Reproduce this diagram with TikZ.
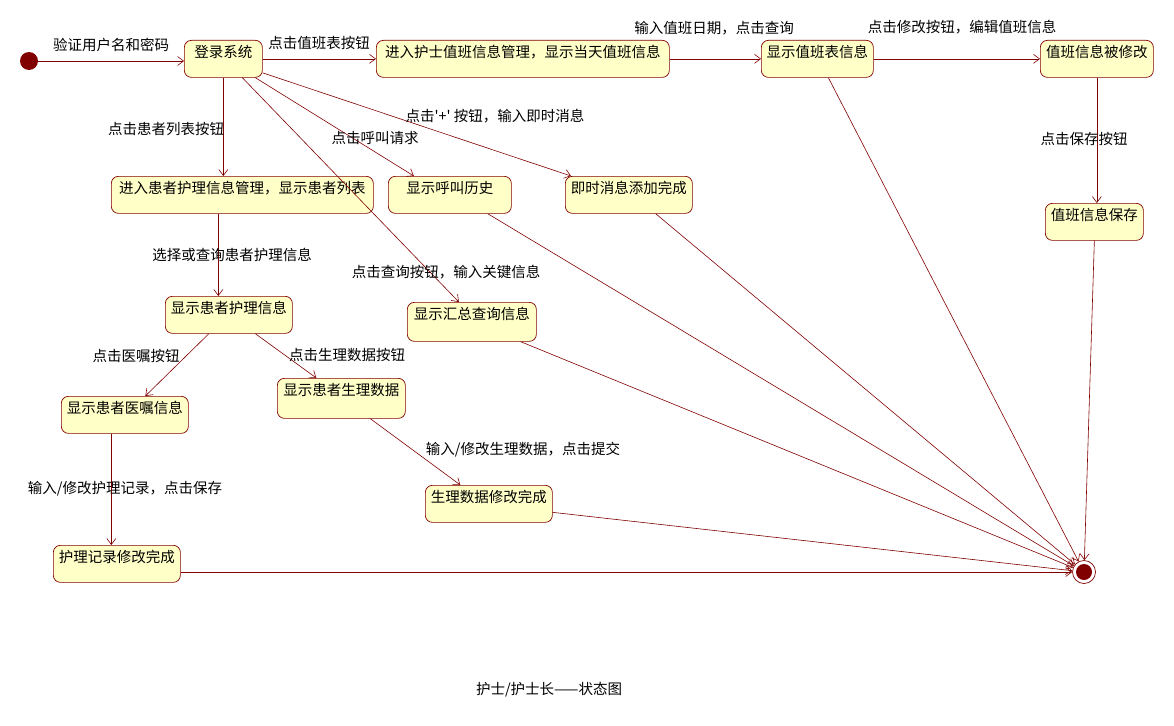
\documentclass[tikz,border=0pt]{standalone}
\usepackage{fontspec}
\setmainfont{Noto Sans CJK SC}
\usepackage{xcolor}
\usetikzlibrary{arrows, arrows.meta}
\definecolor{umlred}{RGB}{128,0,0}
\definecolor{umlfill}{RGB}{255,255,200}

\begin{document}
\begin{tikzpicture}[x=1pt, y=-1pt, font=\fontsize{14.5}{16}\selectfont,
  state/.style={draw=umlred, fill=umlfill, rounded corners=7pt, line width=0.7pt, anchor=north west,
    inner xsep=3pt, inner ysep=2pt, text height=15pt, text depth=18pt},
  trans/.style={draw=umlred, line width=0.6pt, -{Straight Barb[length=6pt,width=9pt]}},
  lbl/.style={inner sep=0pt}]
\useasboundingbox (0,0) rectangle (1174,725); %page size

% start and end
\node[circle, fill=umlred, minimum size=18pt, inner sep=0pt] (init) at (29,61) {};
\node[circle, draw=umlred, fill=white, line width=0.7pt, minimum size=23pt, inner sep=0pt] (final) at (1084,572) {};
\fill[umlred] (final) circle (8pt);

% states
\node[state, minimum width=78pt] (login) at (184,40) {登录系统};
\node[state, minimum width=293pt] (duty) at (376,40) {进入护士值班信息管理，显示当天值班信息};
\node[state, minimum width=112pt] (showDuty) at (761,40) {显示值班表信息};
\node[state, minimum width=113pt] (modified) at (1040,40) {值班信息被修改};
\node[state, minimum width=98pt] (saved) at (1045,203) {值班信息保存};
\node[state, minimum width=262pt] (plist) at (111,176) {进入患者护理信息管理，显示患者列表};
\node[state, minimum width=123pt] (callHist) at (388,176) {显示呼叫历史};
\node[state, minimum width=127pt] (msgDone) at (565,176) {即时消息添加完成};
\node[state, minimum width=127pt] (pinfo) at (165,296) {显示患者护理信息};
\node[state, minimum width=129pt, text depth=20pt] (summary) at (407,302) {显示汇总查询信息};
\node[state, minimum width=127pt] (advice) at (61,396) {显示患者医嘱信息};
\node[state, minimum width=128pt, text depth=21pt] (vital) at (277,378) {显示患者生理数据};
\node[state, minimum width=127pt] (vitalDone) at (425,485) {生理数据修改完成};
\node[state, minimum width=127pt] (recordDone) at (53,545) {护理记录修改完成};

% transitions
\draw[trans] (init) -- (init -| login.west);
\draw[trans] (login) -- (duty);
\draw[trans] (duty) -- (showDuty);
\draw[trans] (showDuty) -- (modified);
\draw[trans] (modified.south) -- (modified.south |- saved.north);
\draw[trans] (login.south) -- (login.south |- plist.north);
\draw[trans] ([xshift=32pt]login.south) -- ([xshift=-36pt]callHist.north);
\draw[trans] ([yshift=-14pt]login.east) -- ([xshift=6pt]msgDone.north west);
\draw[trans] ([xshift=19pt]login.south) -- ([xshift=-13pt]summary.north);
\draw[trans] ([xshift=-24pt]plist.south) -- ([xshift=-10.5pt]pinfo.north);
\draw[trans] ([xshift=-20pt]pinfo.south) -- ([xshift=20.5pt]advice.north);
\draw[trans] ([xshift=26.5pt]pinfo.south) -- ([xshift=-25pt]vital.north);
\draw[trans] ([xshift=29pt]vital.south) -- ([xshift=-28.5pt]vitalDone.north);
\draw[trans] ([xshift=-13.5pt]advice.south) -- ([xshift=-5.5pt]recordDone.north);

% into the end state
\draw[trans] (recordDone.east |- final) -- (final);
\draw[trans] ([yshift=-8.5pt]vitalDone.east) -- (final);
\draw[trans] ([xshift=-16pt]summary.south east) -- (final);
\draw[trans] ([xshift=-24pt]callHist.south east) -- (final);
\draw[trans] ([xshift=-37pt]msgDone.south east) -- (final);
\draw[trans] ([xshift=11pt]showDuty.south) -- (final);
\draw[trans] (saved.south) -- (final);

% labels
\node[lbl] (tVerify) at (111,45) {验证用户名和密码};
\node[lbl] (tDutyBtn) at (319,43) {点击值班表按钮};
\node[lbl] (tDate) at (714,28) {输入值班日期，点击查询};
\node[lbl] (tEdit) at (962,27) {点击修改按钮，编辑值班信息};
\node[lbl] (tSave) at (1084,139) {点击保存按钮};
\node[lbl] (tList) at (166,129) {点击患者列表按钮};
\node[lbl] (tCall) at (375,138) {点击呼叫请求};
\node[lbl] (tMsg) at (495,116) {点击\textquotesingle+\textquotesingle\ 按钮，输入即时消息};
\node[lbl] (tSelect) at (232,255) {选择或查询患者护理信息};
\node[lbl] (tQuery) at (446,272) {点击查询按钮，输入关键信息};
\node[lbl] (tAdvice) at (136,356) {点击医嘱按钮};
\node[lbl] (tVital) at (347,355) {点击生理数据按钮};
\node[lbl] (tSubmit) at (523,450) {输入/修改生理数据，点击提交};
\node[lbl] (tRecord) at (125,489) {输入/修改护理记录，点击保存};
\node[lbl] (caption) at (549,690) {护士/护士长——状态图};
\end{tikzpicture}
\end{document}
